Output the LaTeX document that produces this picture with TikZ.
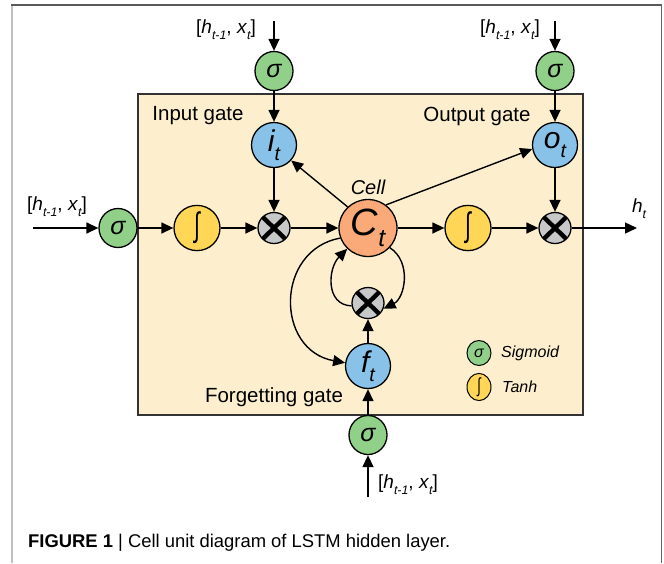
\documentclass[tikz,border=0pt]{standalone}
\usepackage{fontspec}
\usepackage{graphicx}
\setmainfont{Liberation Sans}
\usetikzlibrary{arrows.meta,calc,shapes.geometric}
\newcommand{\lowsub}[1]{\raisebox{-.3em}{\scalebox{.65}{\itshape #1}}}
\newcommand{\hxlabel}{[\textit{h}\lowsub{t-1}, \textit{x}\lowsub{t}]}
\newcommand{\tallint}{\raisebox{-.12em}{\scalebox{.85}[1.35]{∫}}}
\definecolor{sgreen}{HTML}{90D088}
\definecolor{sblue}{HTML}{88C2E8}
\definecolor{syellow}{HTML}{FFD655}
\definecolor{sorange}{HTML}{F9AA78}
\definecolor{sgray}{HTML}{C8C8C8}
\definecolor{boxfill}{HTML}{FDEFCD}
\begin{document}
\begin{tikzpicture}[x=1pt,y=-1pt,
  base/.style={draw=black,line width=1.3pt,inner sep=0pt,ellipse},
  sig/.style={base,fill=sgreen,minimum width=38pt,minimum height=39pt,font=\fontsize{25}{25}\selectfont\itshape},
  gate/.style={base,fill=sblue,minimum width=45pt,minimum height=45pt,font=\fontsize{30}{30}\selectfont\itshape},
  tanhn/.style={base,fill=syellow,minimum width=46pt,minimum height=43pt,font=\fontsize{25}{25}\selectfont},
  cell/.style={base,fill=sorange,minimum width=58pt,minimum height=57pt,font=\fontsize{38}{38}\selectfont\itshape},
  mult/.style={base,fill=sgray,minimum width=32pt,minimum height=31pt,
    path picture={\draw[line width=4.4pt,black]
      (path picture bounding box.north west) -- (path picture bounding box.south east)
      (path picture bounding box.north east) -- (path picture bounding box.south west);}},
  leg/.style={base,minimum width=24pt,minimum height=25pt,line width=1pt},
  lbl/.style={font=\fontsize{19}{19}\selectfont,inner sep=0pt},
  gatelbl/.style={lbl,font=\fontsize{20.5}{20.5}\selectfont},
  arr/.style={line width=1.4pt,-{Triangle[length=12pt,width=11pt]}}
]
\useasboundingbox (0,0) rectangle (664,563);
% outer frame
\draw[line width=2pt,color=black!25] (12,5) -- (12,563);
\draw[line width=1.5pt,color=black!65] (11,5) -- (662,5);
\draw[line width=1.5pt,color=black!60] (661.5,5) -- (661.5,563);
% inner box
\node[draw=black!80,line width=1.5pt,fill=boxfill,minimum width=445pt,minimum height=321pt,inner sep=0pt] (box) at (360.5,254.5) {};
% nodes main row
\node[sig] (sigL) at (118,228) {σ};
\node[tanhn] (th1) at (197,228) {\tallint};
\node[mult] (m1) at (274,228) {};
\node[cell] (C) at (368,228) {C\lowsub{t}};
\node[tanhn] (th2) at (468,228) {\tallint};
\node[mult] (m2) at (555,228) {};
% input gate
\node[sig] (sigI) at (274,71) {σ};
\node[gate] (i) at (274,145) {i\lowsub{t}};
% output gate
\node[sig] (sigO) at (555,71) {σ};
\node[gate] (o) at (555,145) {o\lowsub{t}};
% forgetting gate
\node[mult] (m3) at (368,303) {};
\node[gate] (f) at (368,366) {f\lowsub{t}};
\node[sig] (sigF) at (368,435) {σ};
% free ends
\coordinate (inL) at (33,228);
\coordinate (outR) at (637,228);
\coordinate (topI) at (274,21);
\coordinate (topO) at (555,21);
\coordinate (botF) at (368,497);
% labels
\node[lbl] (lL) at (57,207) {\hxlabel};
\node[lbl] (lI) at (226,30) {\hxlabel};
\node[lbl] (lO) at (510,30) {\hxlabel};
\node[lbl] (lF) at (408,485) {\hxlabel};
\node[lbl] (lh) at (639,209) {\textit{h}\lowsub{t}};
\node[gatelbl] (tin) at (198,116) {Input gate};
\node[gatelbl] (tout) at (477,116) {Output gate};
\node[gatelbl] (tfor) at (274,397) {Forgetting gate};
\node[lbl,font=\fontsize{20}{20}\selectfont\itshape] (tcell) at (368,187) {Cell};
% legend
\node[leg,fill=sgreen,font=\fontsize{16}{16}\selectfont\itshape] (lg1) at (479,353) {σ};
\node[leg,fill=syellow,font=\fontsize{15}{15}\selectfont] (lg2) at (479,387) {\tallint};
\node[lbl,font=\fontsize{16}{16}\selectfont\itshape,anchor=west] (tsig) at (501,353) {Sigmoid};
\node[lbl,font=\fontsize{16}{16}\selectfont\itshape,anchor=west] (ttanh) at (502,387) {Tanh};
% connectors main row
\draw[arr] (inL) -- (sigL);
\draw[arr] (sigL) -- (th1);
\draw[arr] (th1) -- (m1);
\draw[arr] (m1) -- (C);
\draw[arr] (C) -- (th2);
\draw[arr] (th2) -- (m2);
\draw[arr] (m2) -- (outR);
% top
\draw[arr] (topI) -- (sigI);
\draw[arr] (sigI) -- (i);
\draw[arr] (i) -- (m1);
\draw[arr] (topO) -- (sigO);
\draw[arr] (sigO) -- (o);
\draw[arr] (o) -- (m2);
% cell to gates
\draw[arr] (C.134) -- (i.318);
\draw[arr] (C.52) -- (o.190);
% bottom
\draw[arr] (botF) -- (sigF);
\draw[arr] (sigF) -- (f);
\draw[arr] (f) -- (m3);
% loops
\draw[arr] (C.200) .. controls (275,250) and (275,350) .. (f.172);
\draw[arr] (m3.190) .. controls (325,305) and (328,268) .. (C.225);
\draw[arr] (C.318) .. controls (412,262) and (405,298) .. (m3.340);
% caption
\node[anchor=west,inner sep=0pt,font=\fontsize{18.4}{18.4}\selectfont] (cap) at (28,543) {\textbf{FIGURE 1} | Cell unit diagram of LSTM hidden layer.};
\end{tikzpicture}
\end{document}
